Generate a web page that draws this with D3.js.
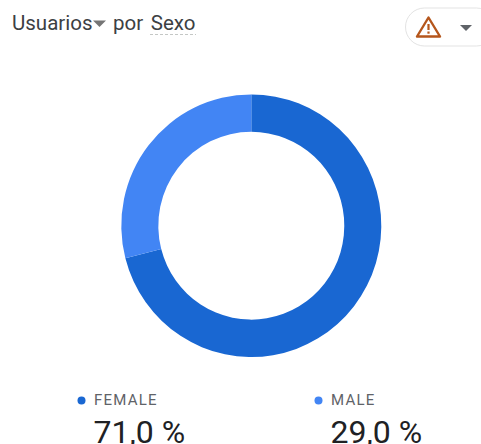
<!DOCTYPE html>
<html>
<head>
<meta charset="utf-8">
<script src="https://cdnjs.cloudflare.com/ajax/libs/d3/7.8.5/d3.min.js"></script>
<style>
html, body { margin: 0; padding: 0; background: #fff; }
svg { display: block; }
text { font-family: Roboto, "Noto Sans", sans-serif; }
</style>
</head>
<body>
<script>
const categories = ['FEMALE', 'MALE'];
const shares = [71.0, 29.0];
const valueLabels = ['71,0 %', '29,0 %'];
const sliceColors = ['#1967d2', '#4285f4'];

const width = 481;
const height = 444;

let svg = d3.select('body')
    .append('svg')
    .attr('width', width)
    .attr('height', height);

// title
let title = svg.append('g').classed('title', true);
title.append('text')
    .attr('x', 12).attr('y', 29.5)
    .attr('font-size', 20.5)
    .attr('fill', '#3c4043')
    .text('Usuarios');
title.append('path')
    .attr('d', 'M93,20.5 h13 l-6.5,6.5 z')
    .attr('fill', '#757575');
title.append('text')
    .attr('x', 113).attr('y', 29.5)
    .attr('font-size', 20.5)
    .attr('word-spacing', 2.5)
    .attr('fill', '#3c4043')
    .text('por Sexo');
title.append('line')
    .attr('x1', 150).attr('x2', 196)
    .attr('y1', 34.5).attr('y2', 34.5)
    .attr('stroke', '#c4c7c5')
    .attr('stroke-dasharray', '3 2');

// warning button
let button = svg.append('g').classed('button', true);
button.append('rect')
    .attr('x', 405.5).attr('y', 8)
    .attr('width', 90).attr('height', 38)
    .attr('rx', 19)
    .attr('fill', '#fff')
    .attr('stroke', '#e3e3e3');
button.append('path')
    .attr('d', 'M428.5,17.5 L440,36.5 H417 Z')
    .attr('fill', 'none')
    .attr('stroke', '#b5561c')
    .attr('stroke-width', 2.4)
    .attr('stroke-linejoin', 'round');
button.append('rect')
    .attr('x', 427.4).attr('y', 24)
    .attr('width', 2.2).attr('height', 6)
    .attr('fill', '#b5561c');
button.append('rect')
    .attr('x', 427.4).attr('y', 31.5)
    .attr('width', 2.2).attr('height', 2.2)
    .attr('fill', '#b5561c');
button.append('path')
    .attr('d', 'M460,25 h12 l-6,6 z')
    .attr('fill', '#5f6368');

// donut, the reference is a touch taller than wide
let pie = d3.pie().sort(null).value(d => d);
let arc = d3.arc().innerRadius(93).outerRadius(130);

let color = d3.scaleOrdinal()
    .domain(categories)
    .range(sliceColors);

let donut = svg.append('g')
    .classed('donut', true)
    .attr('transform', 'translate(251.3,225.7) scale(1,1.01)');

donut.selectAll('path')
    .data(pie(shares))
    .enter()
    .append('path')
    .attr('d', arc)
    .attr('fill', (d, i) => color(categories[i]));

// legend
let legendX = d3.scaleOrdinal()
    .domain(categories)
    .range([77, 314]);

let legend = svg.selectAll('.legend')
    .data(categories)
    .enter()
    .append('g')
    .classed('legend', true)
    .attr('transform', d => `translate(${legendX(d)},0)`);

legend.append('circle')
    .attr('cx', 4.5).attr('cy', 400.5)
    .attr('r', 4)
    .attr('fill', d => color(d));

legend.append('text')
    .attr('x', 17).attr('y', 405)
    .attr('font-size', 15)
    .attr('letter-spacing', 1.2)
    .attr('fill', '#5f6368')
    .text(d => d);

legend.append('text')
    .attr('x', 16.5).attr('y', 442.5)
    .attr('font-size', 32)
    .attr('fill', '#202124')
    .text((d, i) => valueLabels[i]);
</script>
</body>
</html>
